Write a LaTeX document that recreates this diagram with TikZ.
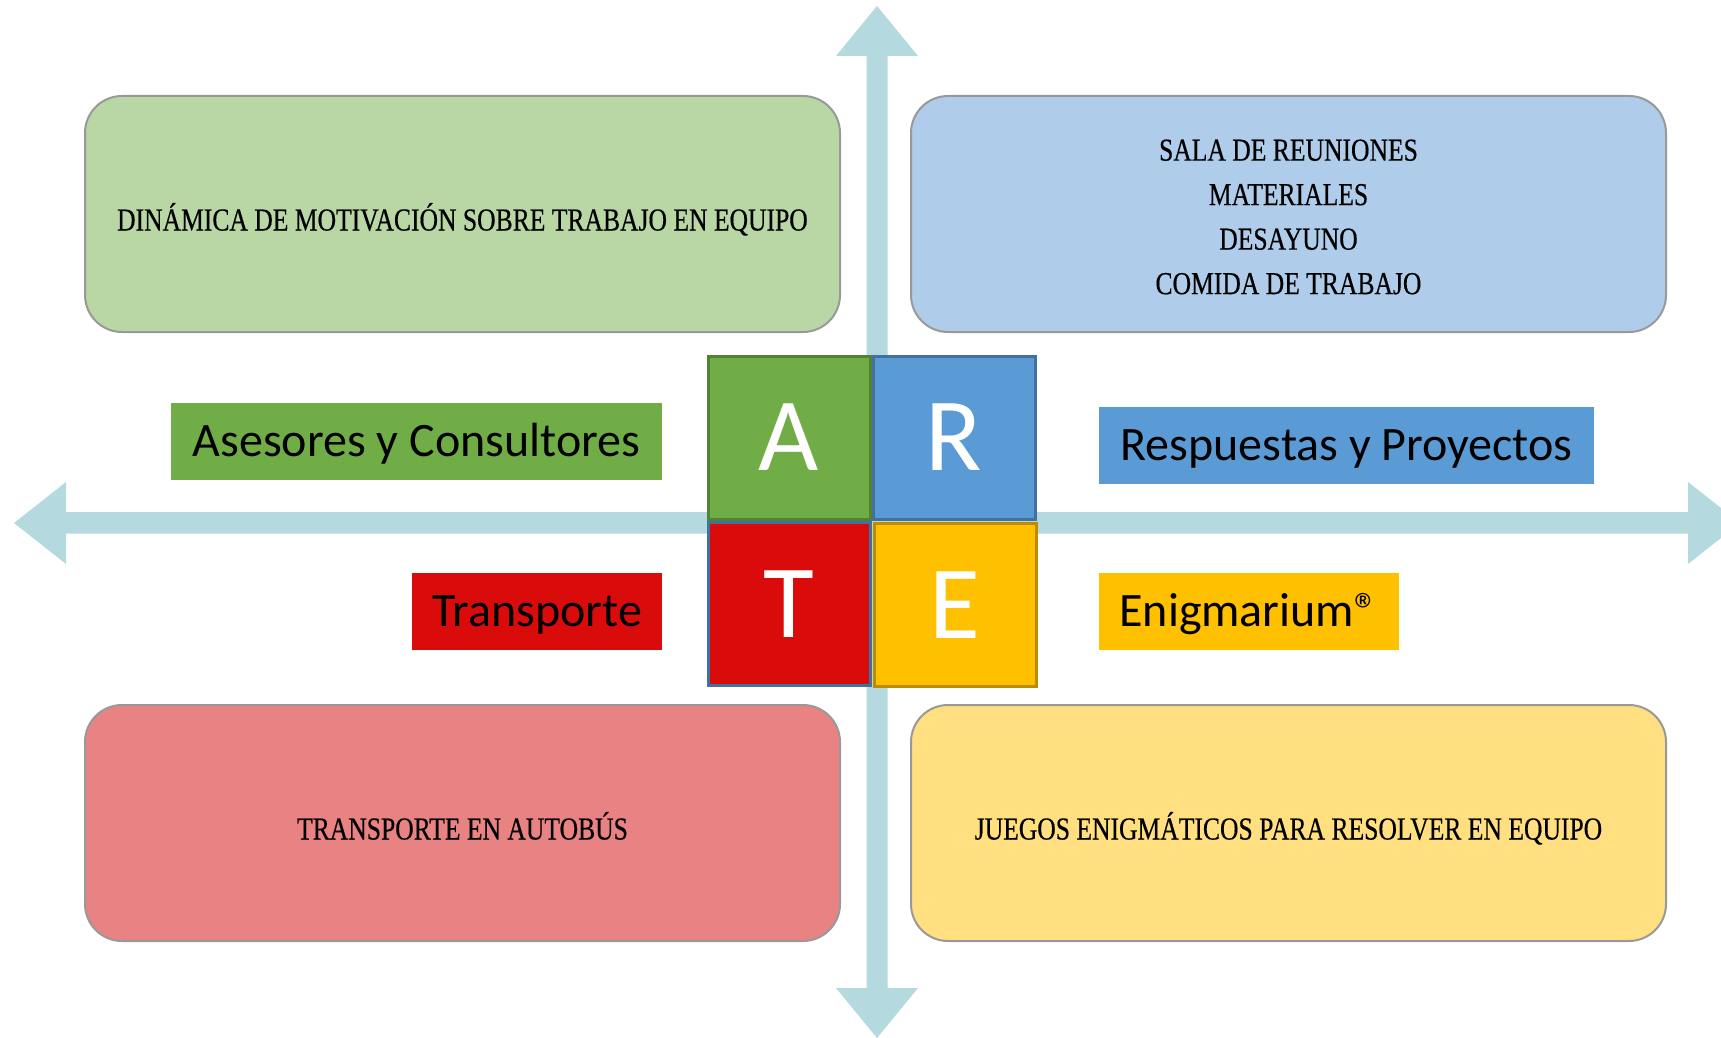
\documentclass[tikz,border=0pt]{standalone}
\usepackage{fontspec}
\setmainfont{Carlito}
\newfontfamily\boxfont[FakeStretch=0.8,FakeBold=0.4]{Liberation Serif}
\definecolor{axiscol}{RGB}{180,217,222}
\definecolor{greenL}{RGB}{185,214,165}
\definecolor{blueL}{RGB}{175,204,234}
\definecolor{redL}{RGB}{233,131,131}
\definecolor{yellowL}{RGB}{255,223,128}
\definecolor{greenM}{RGB}{112,173,71}
\definecolor{greenD}{RGB}{84,130,53}
\definecolor{blueM}{RGB}{91,155,213}
\definecolor{blueD}{RGB}{65,113,156}
\definecolor{redM}{RGB}{217,11,11}
\definecolor{yellowM}{RGB}{255,192,0}
\definecolor{yellowD}{RGB}{188,140,0}
\definecolor{boxgray}{RGB}{153,153,153}
\begin{document}
\begin{tikzpicture}[x=1pt,y=-1pt,
  bigbox/.style={draw=boxgray, line width=2pt, rounded corners=37pt,
    minimum width=755pt, minimum height=236pt, inner sep=0pt, outer sep=0pt,
    font=\boxfont\fontsize{32}{44.5}\selectfont, align=center, text=black},
  oneline/.style={text height=33pt, text depth=0pt},
  lbl/.style={inner sep=0pt, outer sep=0pt, minimum height=77pt,
    font=\fontsize{48}{52}\selectfont, text=black, text height=30pt, text depth=0pt},
  letter/.style={line width=3pt, minimum width=162pt, minimum height=163pt,
    inner sep=0pt, outer sep=0pt, text=white, font=\fontsize{104}{110}\selectfont}]
\useasboundingbox (0,0) rectangle (1721,1038);
% axes
\fill[axiscol] (866.5,56) -- (836,56) -- (877,6) -- (918,56) -- (887.5,56)
  -- (887.5,988) -- (918,988) -- (877,1038) -- (836,988) -- (866.5,988) -- cycle;
\fill[axiscol] (66,512) -- (66,482) -- (14,523) -- (66,564) -- (66,533.5)
  -- (1688,533.5) -- (1688,564) -- (1740,523) -- (1688,482) -- (1688,512) -- cycle;
% rounded boxes
\node[bigbox, oneline, fill=greenL] (din) at (462.5,214)
  {DINÁMICA DE MOTIVACIÓN SOBRE TRABAJO EN EQUIPO};
\node[bigbox, fill=blueL] (sala) at (1288.5,214)
  {\raisebox{-4.5pt}[\height][\depth]{\begin{tabular}{@{}c@{}}SALA DE REUNIONES\\MATERIALES\\DESAYUNO\\COMIDA DE TRABAJO\end{tabular}}};
\node[bigbox, oneline, fill=redL] (bus) at (462.5,823)
  {TRANSPORTE EN AUTOBÚS};
\node[bigbox, oneline, fill=yellowL] (juegos) at (1288.5,823)
  {JUEGOS ENIGMÁTICOS PARA RESOLVER EN EQUIPO};
% labels
\node[lbl, fill=greenM, minimum width=491pt] (ase) at (416.5,441.5) {Asesores y Consultores};
\node[lbl, fill=blueM, minimum width=495pt] (res) at (1346.5,445) {Respuestas y Proyectos};
\node[lbl, fill=redM, minimum width=250pt] (tra) at (537,611.5) {Transporte};
\node[lbl, fill=yellowM, minimum width=300pt] (eni) at (1249,611.5) {Enigmarium®};
% ARTE block
\node[letter, fill=greenM, draw=greenD] (A) at (789,437.5) {A};
\node[letter, fill=blueM, draw=blueD] (R) at (954,437.5) {R};
\node[letter, fill=yellowM, draw=yellowD] (E) at (955,605) {E};
\node[letter, fill=redM, draw=blueD] (T) at (789,604) {T};
\end{tikzpicture}
\end{document}
